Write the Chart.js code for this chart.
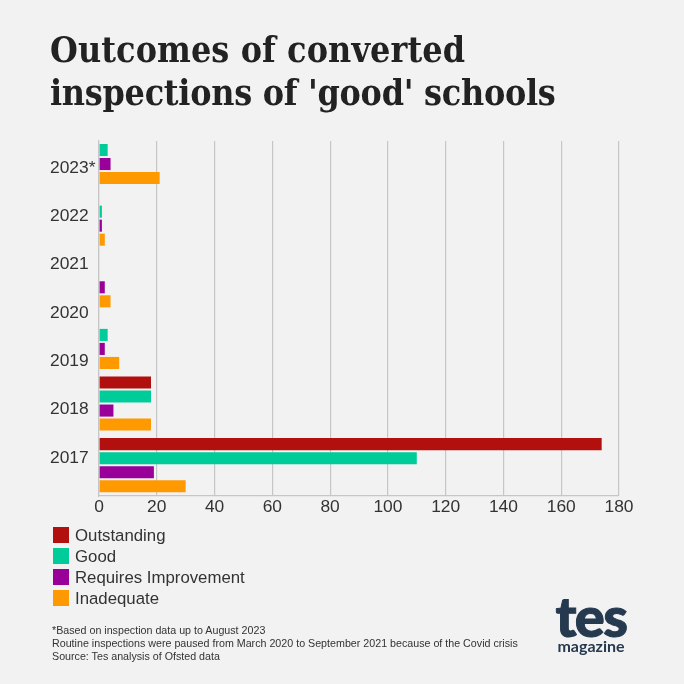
<!DOCTYPE html>
<html>
<head>
<meta charset="utf-8">
<style>
    html, body { margin: 0; padding: 0; background: #f2f2f3; }
    #pagina { position: relative; width: 684px; height: 684px; overflow: hidden; font-family: "Liberation Sans", Arial, sans-serif; color: #333; }
    #grafico { position: absolute; left: 0; top: 0; }
    h1 { position: absolute; left: 50px; top: 28px; margin: 0; font: bold 35.5px/43px "DejaVu Serif Condensed", "DejaVu Serif", serif; color: #222; white-space: nowrap; }
    #leyenda { position: absolute; left: 53px; top: 525px; font-size: 16.8px; line-height: 21px; }
    #leyenda div { height: 21px; white-space: nowrap; }
    #leyenda span { display: inline-block; width: 16px; height: 16px; margin-right: 6px; vertical-align: -2px; }
    #notas { position: absolute; left: 52px; top: 624px; font-size: 10.7px; line-height: 13px; white-space: nowrap; }
    #logo { position: absolute; left: 551px; top: 588px; color: #25394f; text-align: center; width: 80px; }
    #logo .tes { font: 900 56px/55px Lato, sans-serif; letter-spacing: -1.5px; -webkit-text-stroke: 1px #25394f; }
    #logo .mag { font: bold 16px/14px Lato, sans-serif; margin-top: -4px; }
</style>
</head>
<body>
<div id="pagina">
    <canvas id="grafico" width="684" height="684"></canvas>
    <h1><span style="letter-spacing: 0.1px">Outcomes of converted</span><br><span style="letter-spacing: -0.27px">inspections of 'good' schools</span></h1>
    <div id="leyenda"></div>
    <div id="notas">*Based on inspection data up to August 2023<br>Routine inspections were paused from March 2020 to September 2021 because of the Covid crisis<br>Source: Tes analysis of Ofsted data</div>
    <div id="logo"><div class="tes">tes</div><div class="mag">magazine</div></div>
</div>
<script src="https://cdn.jsdelivr.net/npm/chart.js@4"></script>
<script>
// the bars in the original only have 6 groups (no 2021) and do not line up with the year labels
const gruposBarras = [0, 1, 2, 3, 4, 5]; // 2017, 2018, 2019, 2020, 2022, 2023*
const outstanding = [174, 18, 0, 0, 0, 0];
const good = [110, 18, 3, 0, 1, 3];
const requiresImprovement = [19, 5, 2, 2, 1, 4];
const inadequate = [30, 18, 7, 4, 2, 21];

const posicionesAnios = [2017, 2018, 2019, 2020, 2021, 2022, 2023];
const etiquetasAnios = ["2017", "2018", "2019", "2020", "2021", "2022", "2023*"];
const marcasX = [0, 20, 40, 60, 80, 100, 120, 140, 160, 180];

const colorGrilla = "#c6c6c6";
const colorTexto = "#333333";

function serie(nombre, valores, color) {
    return {
        label: nombre,
        data: valores.map((v, i) => ({ x: v, y: gruposBarras[i] })),
        backgroundColor: color,
        yAxisID: "y",
        categoryPercentage: 0.91,
        barPercentage: 0.86
    };
}

const series = [
    serie("Outstanding", outstanding, "#b20f0f"),
    serie("Good", good, "#00cc99"),
    serie("Requires Improvement", requiresImprovement, "#990099"),
    serie("Inadequate", inadequate, "#ff9900")
];

new Chart(document.getElementById("grafico").getContext("2d"), {
    type: "bar",
    data: { datasets: series },
    options: {
        indexAxis: "y",
        responsive: false,
        animation: false,
        layout: { padding: { top: 141, right: 65, bottom: 160, left: 50 } },
        plugins: { legend: { display: false }, tooltip: { enabled: false } },
        scales: {
            x: {
                type: "linear",
                min: 0,
                max: 180,
                afterBuildTicks: (eje) => { eje.ticks = marcasX.map(v => ({ value: v })); },
                afterFit: (eje) => { eje.height = 28; },
                grid: { color: colorGrilla, lineWidth: 1.2, drawTicks: false },
                border: { color: colorGrilla, width: 1.2 },
                ticks: { color: colorTexto, padding: 1, autoSkip: false, maxRotation: 0, font: { family: "Liberation Sans", size: 17.4 } }
            },
            y: {
                type: "linear",
                display: false,
                offset: false,
                min: -0.5,
                max: 5.26,
                // bar thickness is worked out from the tick spacing too
                afterBuildTicks: (eje) => { eje.ticks = gruposBarras.map(v => ({ value: v })); }
            },
            anios: {
                type: "linear",
                axis: "y",
                position: "left",
                offset: false,
                min: 2016.21,
                max: 2023.56,
                afterBuildTicks: (eje) => { eje.ticks = posicionesAnios.map(v => ({ value: v })); },
                afterFit: (eje) => { eje.width = 49; },
                grid: { display: false, drawTicks: false, tickLength: 0, offset: false },
                border: { color: colorGrilla, width: 1.2 },
                ticks: {
                    color: colorTexto,
                    padding: 0,
                    crossAlign: "far", // labels are left aligned in the original
                    autoSkip: false,
                    font: { family: "Liberation Sans", size: 17.4 },
                    callback: (valor, i) => etiquetasAnios[i]
                }
            }
        }
    }
});

const leyenda = document.getElementById("leyenda");
series.forEach(s => {
    const fila = document.createElement("div");
    const cuadro = document.createElement("span");
    cuadro.style.background = s.backgroundColor;
    fila.appendChild(cuadro);
    fila.appendChild(document.createTextNode(s.label));
    leyenda.appendChild(fila);
});
</script>
</body>
</html>
